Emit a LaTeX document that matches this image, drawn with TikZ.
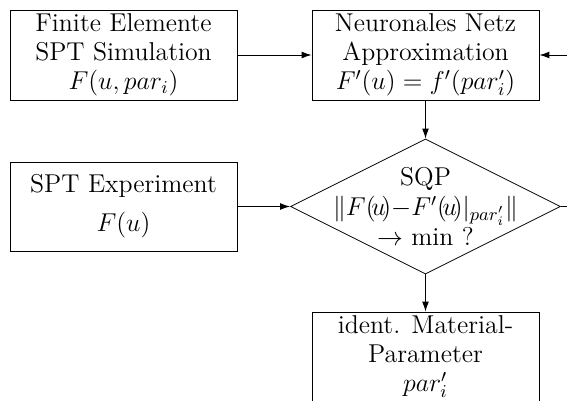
\RequirePackage{fix-cm}
\documentclass[tikz,border=0pt,12pt]{standalone}
\usetikzlibrary{shapes.geometric,arrows.meta}
\begin{document}
\begin{tikzpicture}[x=0.5pt,y=-0.5pt,
  box/.style={draw, rectangle, minimum width=113.5pt, minimum height=45pt, inner sep=0pt, align=center, font=\fontsize{12.9}{14.4}\selectfont},
  dec/.style={draw, diamond, minimum width=135pt, minimum height=67.5pt, inner sep=0pt},
  txt/.style={align=center, inner sep=0pt, font=\fontsize{12.9}{14.8}\selectfont},
  arr/.style={-{Latex[length=5pt,width=3.4pt]}},
  ln/.style={line width=0.45pt}]
\useasboundingbox (0,0) rectangle (567,401);
\clip (0,0) rectangle (567,401);
\node[box] (fe) at (123.5,55) {Finite Elemente\\SPT Simulation\\$F(u,par_i)$};
\node[box] (nn) at (425.5,55) {Neuronales Netz\\Approximation\\$F'(u)=f'(par'_i)$};
\node[box, minimum height=44.5pt] (exp) at (123.5,206.5) {SPT Experiment\\[5pt]$F(u)$};
\node[dec] (sqp) at (425.5,206.5) {};
\node[txt] (sqpt) at (sqp.center) {SQP\\$\|F(\!u\!){-}F'(\!u\!)|_{par'_i}\|$\\$\rightarrow$ min ?};
\node[box] (mp) at (425.5,357) {ident. Material-\\Parameter\\$par'_i$};
\coordinate (rin) at (580,55);
\coordinate (rout) at (580,206.5);
\draw[ln,arr] (fe) -- (nn);
\draw[ln,arr] (rin) -- (nn);
\draw[ln,arr] (nn) -- (sqp.north);
\draw[ln,arr] (exp) -- (sqp.west);
\draw[ln] (sqp.east) -- (rout);
\draw[ln,arr] (sqp.south) -- (mp);
\end{tikzpicture}
\end{document}
